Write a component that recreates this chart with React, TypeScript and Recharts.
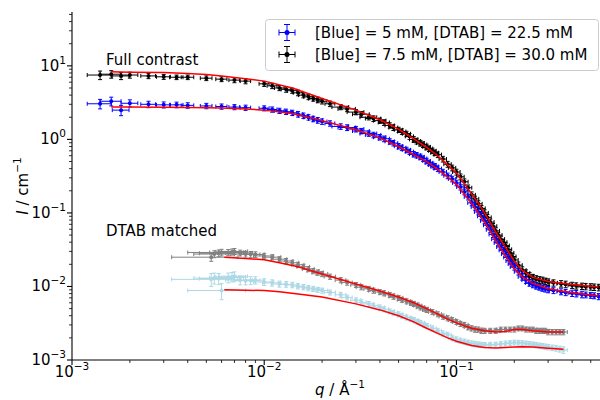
import React from 'react';
import { ScatterChart, Scatter, XAxis, YAxis, ErrorBar } from 'recharts';

const FONT = '"DejaVu Sans", sans-serif';

// full contrast q grid (shared by both samples)
const fullQ = [
  0.0014, 0.0016, 0.0018, 0.002, 0.0025, 0.003, 0.0035, 0.004, 0.005, 0.006, 0.007, 0.008,
  0.01, 0.012, 0.014, 0.016, 0.018, 0.02, 0.025, 0.03, 0.035, 0.04, 0.045, 0.05,
  0.055, 0.06, 0.065, 0.07, 0.075, 0.08, 0.09, 0.1, 0.11, 0.12, 0.13, 0.14,
  0.15, 0.16, 0.17, 0.18, 0.19, 0.2, 0.22, 0.24, 0.26, 0.28, 0.3, 0.35, 0.4, 0.45, 0.5, 0.55,
];
const fullDq = [
  0.0002, 0.0002, 0.00018, 0.0002, 0.00022, 0.00025, 0.00028, 0.0003, 0.00035, 0.0004, 0.00045, 0.0005,
  0.0006, 0.0007, 0.0008, 0.0009, 0.001, 0.0012, 0.0025, 0.003, 0.0035, 0.003, 0.0025, 0.0025,
  0.0027, 0.003, 0.003, 0.0032, 0.0034, 0.0036, 0.004, 0.0045, 0.005, 0.0055, 0.006, 0.0065,
  0.007, 0.0075, 0.008, 0.0085, 0.009, 0.0095, 0.0105, 0.0115, 0.0125, 0.0135, 0.0145, 0.017, 0.019, 0.021, 0.023, 0.025,
];
// second detector setting, in between
const fullQ2 = [
  0.011, 0.013, 0.015, 0.017, 0.019, 0.022, 0.027, 0.032, 0.037, 0.042, 0.047, 0.052, 0.057,
  0.062, 0.067, 0.072, 0.077, 0.085, 0.095, 0.105, 0.115, 0.125, 0.135, 0.145, 0.155, 0.165,
  0.175, 0.185, 0.195, 0.21, 0.23, 0.25, 0.27, 0.29, 0.32, 0.37, 0.42, 0.47, 0.52,
];
const fullDq2 = [
  0.00065, 0.00075, 0.00085, 0.00095, 0.0011, 0.0013, 0.0028, 0.0032, 0.0034, 0.0028, 0.0025, 0.0026, 0.0028,
  0.003, 0.0031, 0.0033, 0.0035, 0.0038, 0.0042, 0.0047, 0.0052, 0.0057, 0.0062, 0.0067, 0.0072, 0.0078,
  0.0082, 0.0088, 0.0092, 0.01, 0.011, 0.012, 0.013, 0.014, 0.0155, 0.018, 0.02, 0.022, 0.024,
];

// [Blue] = 7.5 mM, full contrast
const blackI = [
  7.5, 7.7, 7.3, 7.5, 7.3, 7.1, 7.0, 7.0, 6.8, 6.6, 6.4, 6.2,
  5.7, 5.0, 4.6, 4.0, 3.6, 3.3, 2.75, 2.35, 2.0, 1.8, 1.55, 1.35,
  1.19, 1.0, 0.89, 0.79, 0.7, 0.62, 0.46, 0.36, 0.265, 0.176, 0.133, 0.1,
  0.075, 0.057, 0.044, 0.036, 0.0286, 0.0229, 0.0167, 0.0139, 0.0126, 0.0121, 0.0115, 0.0109, 0.0104, 0.0101, 0.0099, 0.0097,
];
const blackDI = [
  1.0, 0.9, 0.8, 0.7, 0.6, 0.55, 0.5, 0.5, 0.5, 0.5, 0.5, 0.5,
  0.45, 0.4, 0.37, 0.32, 0.29, 0.27, 0.22, 0.19, 0.16, 0.15, 0.13, 0.11,
  0.1, 0.09, 0.08, 0.07, 0.06, 0.055, 0.042, 0.033, 0.025, 0.017, 0.013, 0.01,
  0.0075, 0.0058, 0.0045, 0.0037, 0.003, 0.0024, 0.0018, 0.0015, 0.0014, 0.0013, 0.0012, 0.0011, 0.001, 0.001, 0.001, 0.001,
];
const blackI2 = [
  5.35, 4.8, 4.3, 3.8, 3.45, 3.05, 2.6, 2.2, 1.92, 1.7, 1.45, 1.28, 1.1,
  0.95, 0.85, 0.75, 0.66, 0.54, 0.41, 0.31, 0.22, 0.155, 0.115, 0.087, 0.066, 0.05,
  0.04, 0.032, 0.0255, 0.0195, 0.0152, 0.0132, 0.0123, 0.0118, 0.0112, 0.0107, 0.0102, 0.01, 0.0098,
];
const blackDI2 = [
  0.45, 0.42, 0.38, 0.33, 0.3, 0.26, 0.22, 0.19, 0.17, 0.15, 0.13, 0.11, 0.1,
  0.085, 0.075, 0.066, 0.058, 0.048, 0.037, 0.028, 0.02, 0.014, 0.0105, 0.008, 0.006, 0.0046,
  0.0037, 0.003, 0.0024, 0.002, 0.0016, 0.0014, 0.0013, 0.0012, 0.0011, 0.0011, 0.001, 0.001, 0.001,
];

// [Blue] = 5 mM, full contrast
const blueI = [
  3.05, 3.3, 2.5, 3.1, 3.0, 2.95, 2.95, 2.9, 2.85, 2.8, 2.75, 2.7,
  2.65, 2.45, 2.3, 2.1, 1.9, 1.75, 1.5, 1.38, 1.2, 1.07, 0.94, 0.81,
  0.72, 0.63, 0.58, 0.51, 0.45, 0.4, 0.32, 0.256, 0.193, 0.137, 0.103, 0.078,
  0.059, 0.044, 0.0344, 0.0276, 0.0222, 0.0184, 0.0135, 0.0112, 0.0102, 0.0095, 0.0091, 0.0085, 0.0081, 0.0078, 0.0076, 0.0073,
];
const blueDI = [
  0.45, 0.45, 0.4, 0.35, 0.3, 0.28, 0.26, 0.25, 0.24, 0.23, 0.22, 0.22,
  0.21, 0.2, 0.19, 0.18, 0.16, 0.15, 0.13, 0.12, 0.1, 0.09, 0.08, 0.07,
  0.062, 0.055, 0.05, 0.045, 0.04, 0.035, 0.028, 0.022, 0.017, 0.012, 0.009, 0.007,
  0.0053, 0.004, 0.0031, 0.0025, 0.002, 0.0017, 0.0013, 0.0011, 0.001, 0.0009, 0.0009, 0.0008, 0.0008, 0.0008, 0.0007, 0.0007,
];
const blueI2 = [
  2.55, 2.38, 2.2, 2.0, 1.82, 1.65, 1.45, 1.3, 1.15, 1.02, 0.89, 0.77, 0.68,
  0.61, 0.55, 0.48, 0.43, 0.36, 0.29, 0.225, 0.165, 0.12, 0.09, 0.068, 0.051, 0.039,
  0.031, 0.0248, 0.0202, 0.0158, 0.0122, 0.0106, 0.0098, 0.0093, 0.0088, 0.0083, 0.008, 0.0077, 0.0075,
];
const blueDI2 = [
  0.21, 0.2, 0.19, 0.17, 0.16, 0.14, 0.13, 0.11, 0.1, 0.09, 0.075, 0.066, 0.058,
  0.052, 0.047, 0.042, 0.038, 0.032, 0.025, 0.02, 0.015, 0.011, 0.008, 0.006, 0.0046, 0.0035,
  0.0028, 0.0022, 0.0018, 0.0015, 0.0012, 0.001, 0.0009, 0.0009, 0.0008, 0.0008, 0.0008, 0.0007, 0.0007,
];

// DTAB matched q grid
const matchQ = [
  0.0053, 0.0055, 0.006, 0.0065, 0.007, 0.0075, 0.008, 0.009, 0.01, 0.011, 0.012,
  0.014, 0.016, 0.018, 0.02, 0.025, 0.03, 0.035, 0.04, 0.045, 0.05,
  0.055, 0.06, 0.065, 0.07, 0.08, 0.09, 0.1, 0.11, 0.12, 0.13, 0.14,
  0.16, 0.18, 0.2, 0.22, 0.24, 0.26, 0.28, 0.3, 0.33, 0.36,
];
const matchDq = [
  0.002, 0.0012, 0.002, 0.0013, 0.0012, 0.0012, 0.001, 0.001, 0.0012, 0.0012, 0.0011,
  0.0011, 0.0012, 0.0013, 0.0014, 0.0016, 0.0018, 0.002, 0.0022, 0.0024, 0.0026,
  0.0028, 0.003, 0.0032, 0.0034, 0.0037, 0.004, 0.0045, 0.005, 0.0055, 0.006, 0.0065,
  0.0075, 0.0085, 0.0095, 0.0105, 0.0115, 0.0125, 0.0135, 0.0145, 0.016, 0.0175,
];
const matchQ2 = [
  0.0058, 0.0068, 0.0085, 0.013, 0.015, 0.017, 0.019, 0.022, 0.027, 0.032, 0.037, 0.042,
  0.047, 0.052, 0.058, 0.063, 0.068, 0.075, 0.085, 0.095, 0.105, 0.115, 0.125, 0.135,
  0.15, 0.17, 0.19, 0.21, 0.23, 0.25, 0.27, 0.29, 0.315, 0.345,
];
const matchDq2 = [
  0.0012, 0.0012, 0.001, 0.0011, 0.0011, 0.0012, 0.0013, 0.0015, 0.0017, 0.0019, 0.0021, 0.0023,
  0.0025, 0.0027, 0.0029, 0.0031, 0.0033, 0.0035, 0.0038, 0.0042, 0.0047, 0.0052, 0.0057, 0.0062,
  0.007, 0.008, 0.009, 0.01, 0.011, 0.012, 0.013, 0.014, 0.015, 0.0165,
];
const greyI = [
  0.025, 0.0276, 0.029, 0.029, 0.03, 0.0286, 0.0276, 0.0272, 0.026, 0.025, 0.0235,
  0.021, 0.0185, 0.0162, 0.0148, 0.0122, 0.0105, 0.0093, 0.0084, 0.0077, 0.007,
  0.0063, 0.0058, 0.0052, 0.0048, 0.0042, 0.0037, 0.0033, 0.003, 0.0027, 0.0026, 0.0025,
  0.0025, 0.0026, 0.0026, 0.0027, 0.0026, 0.0025, 0.0025, 0.0024, 0.0024, 0.0024,
];
const greyDI = [
  0.003, 0.003, 0.003, 0.0028, 0.0028, 0.0026, 0.0025, 0.0024, 0.0022, 0.002, 0.0019,
  0.0017, 0.0015, 0.0013, 0.0012, 0.001, 0.0008, 0.0007, 0.00065, 0.0006, 0.00055,
  0.0005, 0.00045, 0.0004, 0.00038, 0.00033, 0.0003, 0.00026, 0.00024, 0.00022, 0.00021, 0.0002,
  0.0002, 0.0002, 0.0002, 0.0002, 0.0002, 0.0002, 0.0002, 0.0002, 0.0002, 0.0002,
];
const greyI2 = [
  0.0283, 0.0295, 0.0274, 0.0222, 0.0197, 0.0173, 0.0155, 0.0136, 0.0113, 0.0098, 0.0088, 0.0081,
  0.0073, 0.0066, 0.006, 0.0055, 0.005, 0.0045, 0.0039, 0.0035, 0.0031, 0.0028, 0.0026, 0.0025,
  0.0025, 0.0026, 0.0026, 0.0027, 0.0026, 0.0026, 0.0025, 0.0025, 0.0024, 0.0024,
];
const greyDI2 = [
  0.003, 0.0028, 0.0025, 0.0018, 0.0016, 0.0014, 0.0013, 0.0011, 0.0009, 0.0008, 0.0007, 0.00065,
  0.0006, 0.00052, 0.00048, 0.00043, 0.0004, 0.00036, 0.00031, 0.00028, 0.00025, 0.00023, 0.00022, 0.00021,
  0.0002, 0.0002, 0.0002, 0.0002, 0.0002, 0.0002, 0.0002, 0.0002, 0.0002, 0.0002,
];
const lightI = [
  0.0125, 0.013, 0.0088, 0.0132, 0.0138, 0.0122, 0.012, 0.0122, 0.0115, 0.0112, 0.0108,
  0.0105, 0.0098, 0.0093, 0.0088, 0.0077, 0.0065, 0.0058, 0.0052, 0.0046, 0.0042,
  0.0038, 0.0035, 0.0032, 0.0029, 0.0025, 0.0022, 0.0019, 0.00178, 0.00168, 0.00162, 0.0016,
  0.00162, 0.00168, 0.00173, 0.0017, 0.00165, 0.0016, 0.00155, 0.0015, 0.00145, 0.00137,
];
const lightDI = [
  0.0025, 0.0022, 0.0022, 0.002, 0.002, 0.0017, 0.0015, 0.0014, 0.0012, 0.0011, 0.001,
  0.0009, 0.0008, 0.00075, 0.0007, 0.0006, 0.0005, 0.00045, 0.0004, 0.00035, 0.00032,
  0.0003, 0.00028, 0.00026, 0.00024, 0.0002, 0.00018, 0.00016, 0.00015, 0.00014, 0.00014, 0.00013,
  0.00013, 0.00013, 0.00013, 0.00013, 0.00013, 0.00013, 0.00013, 0.00013, 0.00013, 0.00014,
];
const lightI2 = [
  0.0128, 0.0135, 0.0121, 0.0107, 0.0101, 0.0095, 0.009, 0.0083, 0.0071, 0.0061, 0.0055, 0.0049,
  0.0044, 0.004, 0.0036, 0.0033, 0.003, 0.0027, 0.0023, 0.002, 0.00183, 0.00172, 0.00165, 0.00161,
  0.00161, 0.00165, 0.0017, 0.00172, 0.00168, 0.00163, 0.00157, 0.00152, 0.00147, 0.00141,
];
const lightDI2 = [
  0.0022, 0.002, 0.0015, 0.00095, 0.00085, 0.00078, 0.00072, 0.00065, 0.00055, 0.00048, 0.00042, 0.00037,
  0.00033, 0.0003, 0.00028, 0.00026, 0.00025, 0.00022, 0.00019, 0.00017, 0.00015, 0.00014, 0.00014, 0.00013,
  0.00013, 0.00013, 0.00013, 0.00013, 0.00013, 0.00013, 0.00013, 0.00013, 0.00013, 0.00013,
];

// model fits
const fullFitQ = [
  0.0016, 0.002, 0.003, 0.004, 0.005, 0.006, 0.008, 0.01, 0.014, 0.02, 0.03, 0.04, 0.05, 0.06, 0.07, 0.08,
  0.09, 0.1, 0.11, 0.12, 0.13, 0.14, 0.15, 0.16, 0.18, 0.2, 0.22, 0.25, 0.3, 0.4, 0.55,
];
const blackFit = [
  8.3, 8.2, 8.1, 7.9, 7.6, 7.3, 6.7, 6.2, 5.0, 3.6, 2.5, 1.85, 1.38, 1.02, 0.78, 0.6,
  0.45, 0.35, 0.25, 0.18, 0.135, 0.1, 0.074, 0.055, 0.034, 0.022, 0.0165, 0.0133, 0.0117, 0.0106, 0.0098,
];
const blueFit = [
  2.75, 2.75, 2.73, 2.72, 2.7, 2.67, 2.6, 2.5, 2.25, 1.8, 1.35, 1.05, 0.8, 0.62, 0.5, 0.39,
  0.31, 0.245, 0.18, 0.135, 0.1, 0.075, 0.057, 0.042, 0.026, 0.0175, 0.0135, 0.011, 0.0093, 0.0082, 0.0074,
];
const matchFitQ = [
  0.0062, 0.008, 0.01, 0.012, 0.015, 0.02, 0.03, 0.04, 0.05, 0.06, 0.07, 0.08,
  0.09, 0.1, 0.12, 0.14, 0.16, 0.18, 0.2, 0.22, 0.25, 0.3, 0.36,
];
const greyFit = [
  0.025, 0.024, 0.023, 0.021, 0.0185, 0.0148, 0.0108, 0.0087, 0.0072, 0.006, 0.005, 0.0042,
  0.0036, 0.0032, 0.0027, 0.0025, 0.0024, 0.00245, 0.0026, 0.0026, 0.0025, 0.0024, 0.0024,
];
const lightFit = [
  0.009, 0.0089, 0.0088, 0.0085, 0.0079, 0.0072, 0.0058, 0.0048, 0.004, 0.0033, 0.0027, 0.0023,
  0.002, 0.0018, 0.00157, 0.00148, 0.00146, 0.00148, 0.0015, 0.00152, 0.0015, 0.00145, 0.0014,
];

const xTicks = [
  0.001, 0.002, 0.003, 0.004, 0.005, 0.006, 0.007, 0.008, 0.009,
  0.01, 0.02, 0.03, 0.04, 0.05, 0.06, 0.07, 0.08, 0.09,
  0.1, 0.2, 0.3, 0.4, 0.5, 0.6,
];
const yTicks = [
  0.001, 0.002, 0.003, 0.004, 0.005, 0.006, 0.007, 0.008, 0.009,
  0.01, 0.02, 0.03, 0.04, 0.05, 0.06, 0.07, 0.08, 0.09,
  0.1, 0.2, 0.3, 0.4, 0.5, 0.6, 0.7, 0.8, 0.9,
  1, 2, 3, 4, 5, 6, 7, 8, 9,
  10, 20, 30, 40, 50,
];

const legendLabels = ['[Blue] = 5 mM, [DTAB] = 22.5 mM', '[Blue] = 7.5 mM, [DTAB] = 30.0 mM'];
const legendColors = ['#0000ff', '#000000'];

const rows = (q: number[], I: number[], dq: number[], dI: number[]) =>
  q.map((v, i) => ({ q: v, I: I[i], dq: dq[i], dI: dI[i] }));
const fitRows = (q: number[], I: number[]) => q.map((v, i) => ({ q: v, I: I[i] }));

const isMajor = (v: number) => Math.abs(Math.log10(v) - Math.round(Math.log10(v))) < 1e-6;
const expo = (v: number) => {
  const e = Math.round(Math.log10(v));
  return e < 0 ? '\u2212' + Math.abs(e) : String(e);
};

function XTick({ x, y, payload }: any) {
  const v = payload.value;
  const major = isMajor(v);
  return (
    <g>
      <line x1={x} x2={x} y1={y} y2={y + (major ? 5 : 3)} stroke="#000" strokeWidth={major ? 1.1 : 0.8} />
      {major && (
        <text x={x} y={y + 17} textAnchor="middle" fontSize={15} fontFamily={FONT} fill="#000">
          10<tspan dy={-7} fontSize={10.5}>{expo(v)}</tspan>
        </text>
      )}
    </g>
  );
}

function YTick({ x, y, payload }: any) {
  const v = payload.value;
  const major = isMajor(v);
  return (
    <g>
      <line x1={x - (major ? 5 : 3)} x2={x} y1={y} y2={y} stroke="#000" strokeWidth={major ? 1.1 : 0.8} />
      {major && (
        <text x={x - 6} y={y + 5} textAnchor="end" fontSize={15} fontFamily={FONT} fill="#000">
          10<tspan dy={-7} fontSize={10.5}>{expo(v)}</tspan>
        </text>
      )}
    </g>
  );
}

const dot = (color: string) => (p: any) => <circle cx={p.cx} cy={p.cy} r={2} fill={color} />;
const noDot = () => <g />;

const series = [
  { name: 'black', color: '#000000', data: [...rows(fullQ, blackI, fullDq, blackDI), ...rows(fullQ2, blackI2, fullDq2, blackDI2)] },
  { name: 'blue', color: '#0000ff', data: [...rows(fullQ, blueI, fullDq, blueDI), ...rows(fullQ2, blueI2, fullDq2, blueDI2)] },
  { name: 'grey', color: '#808080', data: [...rows(matchQ, greyI, matchDq, greyDI), ...rows(matchQ2, greyI2, matchDq2, greyDI2)] },
  { name: 'light', color: '#add8e6', data: [...rows(matchQ, lightI, matchDq, lightDI), ...rows(matchQ2, lightI2, matchDq2, lightDI2)] },
];
const fits = [
  fitRows(fullFitQ, blackFit),
  fitRows(fullFitQ, blueFit),
  fitRows(matchFitQ, greyFit),
  fitRows(matchFitQ, lightFit),
];

export default function App() {
  return (
    <div style={{ position: 'fixed', left: 0, top: 0, width: 600, height: 400, overflow: 'hidden', background: '#fff' }}>
      <ScatterChart width={606} height={400} margin={{ top: 12, right: 0, bottom: 0, left: 0 }}>
        <XAxis
          dataKey="q"
          type="number"
          scale="log"
          domain={[0.001, 0.6]}
          allowDataOverflow
          ticks={xTicks}
          interval={0}
          tickSize={0}
          tickMargin={0}
          tick={XTick}
          height={40}
          axisLine={{ stroke: '#000', strokeWidth: 1.1 }}
        />
        <XAxis
          xAxisId="top"
          orientation="top"
          type="number"
          scale="log"
          domain={[0.001, 0.6]}
          allowDataOverflow
          height={0}
          tick={false}
          tickLine={false}
          axisLine={{ stroke: '#000', strokeWidth: 1.1 }}
        />
        <YAxis
          dataKey="I"
          type="number"
          scale="log"
          domain={[0.001, 54]}
          allowDataOverflow
          ticks={yTicks}
          interval={0}
          tickSize={0}
          tickMargin={0}
          tick={YTick}
          width={72}
          axisLine={{ stroke: '#000', strokeWidth: 1.1 }}
        />
        {series.map((s) => (
          <Scatter key={s.name} data={s.data} shape={dot(s.color)} isAnimationActive={false}>
            <ErrorBar dataKey="dq" direction="x" width={2} stroke={s.color} strokeWidth={1} />
            <ErrorBar dataKey="dI" direction="y" width={2} stroke={s.color} strokeWidth={1} />
          </Scatter>
        ))}
        {fits.map((f, i) => (
          <Scatter
            key={'fit' + i}
            data={f}
            shape={noDot}
            line={{ stroke: '#ff0000', strokeWidth: 1.5 }}
            lineJointType="linear"
            isAnimationActive={false}
          />
        ))}
      </ScatterChart>
      <svg
        width={600}
        height={400}
        style={{ position: 'absolute', left: 0, top: 0, pointerEvents: 'none' }}
        fontFamily={FONT}
        fontSize={15}
      >
        <text x={106} y={64.5} fill="#000">Full contrast</text>
        <text x={106} y={236} fill="#000">DTAB matched</text>
        <text transform="translate(28,186) rotate(-90)" textAnchor="middle" fill="#000">
          <tspan fontStyle="italic">I</tspan> / cm<tspan dy={-7} fontSize={10.5}>{'\u22121'}</tspan>
        </text>
        <text x={340} y={395} textAnchor="middle" fill="#000">
          <tspan fontStyle="italic">q</tspan> / Å<tspan dy={-7} fontSize={10.5}>{'\u22121'}</tspan>
        </text>
        <rect x={265.5} y={19.5} width={333} height={51} rx={3} fill="#fff" fillOpacity={0.8} stroke="#cccccc" />
        {legendLabels.map((label, i) => {
          const cy = 32.5 + i * 22;
          const c = legendColors[i];
          return (
            <g key={label}>
              <g stroke={c} strokeWidth={1}>
                <line x1={287} x2={287} y1={cy - 8} y2={cy + 8} />
                <line x1={279} x2={295} y1={cy} y2={cy} />
                <line x1={284} x2={290} y1={cy - 8} y2={cy - 8} />
                <line x1={284} x2={290} y1={cy + 8} y2={cy + 8} />
                <line x1={279} x2={279} y1={cy - 3} y2={cy + 3} />
                <line x1={295} x2={295} y1={cy - 3} y2={cy + 3} />
              </g>
              <circle cx={287} cy={cy} r={2.5} fill={c} />
              <text x={315} y={cy + 5} fill="#000">{label}</text>
            </g>
          );
        })}
      </svg>
    </div>
  );
}
